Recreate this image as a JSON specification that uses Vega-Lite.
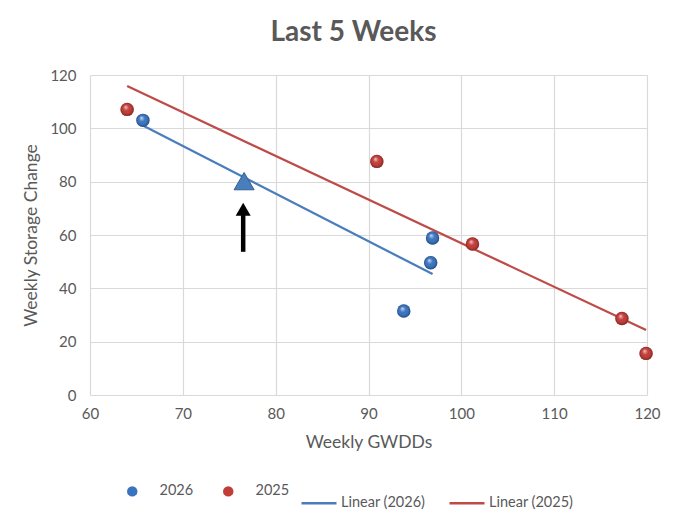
{
  "$schema": "https://vega.github.io/schema/vega-lite/v6.json",
  "description": "Last 5 Weeks: weekly storage change vs weekly GWDDs",
  "width": 557,
  "height": 320,
  "autosize": {"type": "none"},
  "padding": {"left": 90, "top": 75, "right": 33, "bottom": 122},
  "background": "white",
  "title": {
    "text": "Last 5 Weeks",
    "font": "Lato",
    "fontSize": 28,
    "fontWeight": "bold",
    "color": "#595959",
    "anchor": "middle",
    "dx": -15,
    "offset": 21
  },
  "datasets": {
    "pts": [
      {"GWDD": 65.7, "Storage": 103, "Year": "2026", "Fit": "Linear (2026)"},
      {"GWDD": 96.9, "Storage": 58.9, "Year": "2026", "Fit": "Linear (2026)"},
      {"GWDD": 96.7, "Storage": 49.6, "Year": "2026", "Fit": "Linear (2026)"},
      {"GWDD": 93.8, "Storage": 31.5, "Year": "2026", "Fit": "Linear (2026)"},
      {"GWDD": 64.0, "Storage": 107.1, "Year": "2025", "Fit": "Linear (2025)"},
      {"GWDD": 90.9, "Storage": 87.6, "Year": "2025", "Fit": "Linear (2025)"},
      {"GWDD": 101.2, "Storage": 56.6, "Year": "2025", "Fit": "Linear (2025)"},
      {"GWDD": 117.3, "Storage": 28.7, "Year": "2025", "Fit": "Linear (2025)"},
      {"GWDD": 119.9, "Storage": 15.6, "Year": "2025", "Fit": "Linear (2025)"}
    ],
    "marker": [
      {"GWDD": 76.6, "Storage": 80.2}
    ],
    "arrow": [
      {"GWDD": 76.5, "Tail": 53.7, "Neck": 68, "Head": 69.7}
    ]
  },
  "config": {
    "font": "Lato",
    "view": {"stroke": null},
    "axis": {
      "domain": false,
      "ticks": false,
      "labelFlush": false,
      "gridColor": "#d9d9d9",
      "gridWidth": 1.2,
      "labelColor": "#595959",
      "labelFont": "Lato",
      "labelFontSize": 15,
      "titleColor": "#595959",
      "titleFont": "Lato",
      "titleFontSize": 17.5,
      "titleFontWeight": "normal"
    },
    "legend": {
      "labelColor": "#595959",
      "labelFont": "Lato",
      "labelFontSize": 14.5,
      "direction": "horizontal",
      "orient": "none"
    }
  },
  "layer": [
    {
      "data": {"name": "pts"},
      "transform": [
        {"regression": "Storage", "on": "GWDD", "groupby": ["Fit"]}
      ],
      "mark": {"type": "line", "strokeWidth": 2.25},
      "encoding": {
        "x": {
          "field": "GWDD", "type": "quantitative",
          "scale": {"domain": [60, 120], "nice": false},
          "axis": {"title": "Weekly GWDDs", "values": [60, 70, 80, 90, 100, 110, 120], "labelPadding": 11, "titlePadding": 12}
        },
        "y": {
          "field": "Storage", "type": "quantitative",
          "scale": {"domain": [0, 120], "nice": false},
          "axis": {"title": "Weekly Storage Change", "values": [0, 20, 40, 60, 80, 100, 120], "labelPadding": 14, "titlePadding": 9}
        },
        "stroke": {
          "field": "Fit", "type": "nominal",
          "scale": {"domain": ["Linear (2026)", "Linear (2025)"], "range": ["#4a7ebb", "#be4b48"]},
          "legend": {
            "title": null,
            "symbolType": "stroke",
            "symbolSize": 1225,
            "symbolStrokeWidth": 2.5,
            "labelOffset": 3,
            "columnPadding": 18,
            "legendX": 210,
            "legendY": 409
          }
        }
      }
    },
    {
      "data": {"name": "pts"},
      "mark": {"type": "point", "shape": "circle", "filled": true, "size": 180, "opacity": 1},
      "encoding": {
        "x": {"field": "GWDD", "type": "quantitative"},
        "y": {"field": "Storage", "type": "quantitative"},
        "fill": {
          "field": "Year", "type": "nominal",
          "scale": {"domain": ["2026", "2025"], "range": ["#3a74c0", "#c23c38"]},
          "legend": {
            "title": null,
            "symbolType": "circle",
            "symbolSize": 110,
            "symbolStrokeWidth": 0,
            "labelOffset": 20,
            "columnPadding": 27,
            "legendX": 35,
            "legendY": 409
          }
        }
      }
    },
    {
      "data": {"name": "pts"},
      "mark": {
        "type": "point", "shape": "circle", "filled": true, "size": 180, "opacity": 1,
        "fill": {
          "gradient": "radial",
          "x1": 0.38, "y1": 0.3, "r1": 0,
          "x2": 0.5, "y2": 0.5, "r2": 0.5,
          "stops": [
            {"offset": 0, "color": "rgba(255,255,255,0.75)"},
            {"offset": 0.45, "color": "rgba(255,255,255,0)"},
            {"offset": 0.8, "color": "rgba(0,0,0,0.1)"},
            {"offset": 1, "color": "rgba(0,0,0,0.35)"}
          ]
        }
      },
      "encoding": {
        "x": {"field": "GWDD", "type": "quantitative"},
        "y": {"field": "Storage", "type": "quantitative"}
      }
    },
    {
      "data": {"name": "marker"},
      "mark": {"type": "point", "shape": "triangle-up", "filled": true, "size": 400, "fill": "#4a7ebb", "stroke": "#2f5f98", "strokeWidth": 1, "opacity": 1},
      "encoding": {
        "x": {"field": "GWDD", "type": "quantitative"},
        "y": {"field": "Storage", "type": "quantitative"}
      }
    },
    {
      "data": {"name": "arrow"},
      "mark": {"type": "rule", "color": "black", "strokeWidth": 4.5},
      "encoding": {
        "x": {"field": "GWDD", "type": "quantitative"},
        "y": {"field": "Tail", "type": "quantitative"},
        "y2": {"field": "Neck"}
      }
    },
    {
      "data": {"name": "arrow"},
      "mark": {"type": "point", "shape": "triangle-up", "filled": true, "size": 225, "fill": "black", "opacity": 1},
      "encoding": {
        "x": {"field": "GWDD", "type": "quantitative"},
        "y": {"field": "Head", "type": "quantitative"}
      }
    }
  ]
}
